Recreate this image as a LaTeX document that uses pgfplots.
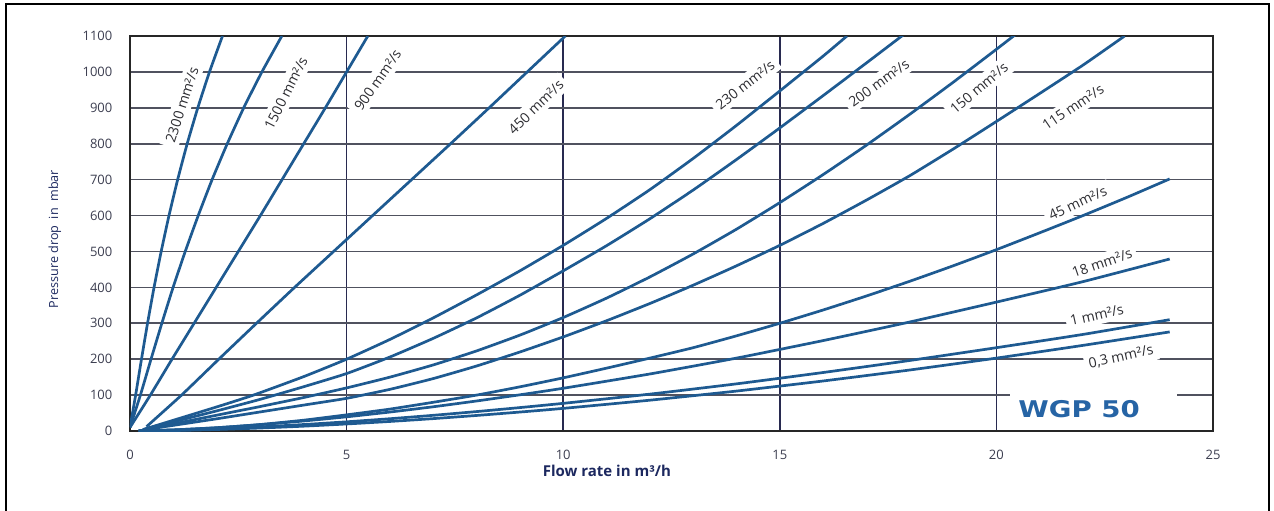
\documentclass[border=0pt]{standalone}
\usepackage{fontspec}
\setmainfont{Open Sans}
\newfontfamily\dejavu{DejaVu Sans}
\usepackage{graphicx}
\usepackage{pgfplots}
\pgfplotsset{compat=1.18}
\definecolor{curve}{RGB}{30,90,145}
\definecolor{hgrid}{RGB}{80,82,95}
\definecolor{vgrid}{RGB}{40,42,80}
\definecolor{ticktxt}{RGB}{60,62,80}
\definecolor{navy}{RGB}{28,40,95}
\definecolor{wgp}{RGB}{38,100,165}
\definecolor{lbltxt}{RGB}{45,45,50}
\tikzset{lbl/.style={font=\fontsize{7}{8}\selectfont, text=lbltxt, fill=white, inner sep=2.2pt}}
\begin{document}
\begin{tikzpicture}
\begin{axis}[
  set layers,
  at={(0,0)}, anchor=south west,
  scale only axis, width=541.5pt, height=197.5pt,
  xmin=0, xmax=25, ymin=0, ymax=1100,
  xtick={0,5,10,15,20,25}, ytick={0,100,...,1100},
  major tick length=0pt,
  /pgf/number format/assume math mode=true,
  /pgf/number format/1000 sep={},
  ticklabel style={font=\fontsize{6.5}{7}\selectfont, text=ticktxt},
  yticklabel style={xshift=-5.3pt},
  xticklabel style={yshift=-6.1pt},
  xmajorgrids, ymajorgrids,
  x grid style={vgrid, line width=0.75pt},
  y grid style={hgrid, line width=0.8pt},
  axis line style={black!85, line width=0.8pt},
  xlabel={Flow rate in m³/h},
  ylabel={Pressure drop\ \ in\ \ mbar},
  xlabel style={at={(axis description cs:0.4404,-0.101)}, anchor=center, font=\bfseries\fontsize{7.5}{8}\selectfont, text=navy},
  ylabel style={at={(axis description cs:-0.0693,0.486)}, anchor=center, font=\fontsize{6.3}{7}\selectfont, text=navy},
  no markers,
  every axis plot post/.append style={curve, solid, line width=1.35pt, mark=none, smooth, tension=0.3},
]
% 2300 mm2/s
\addplot coordinates {(0,10) (0.13,100) (0.265,200) (0.405,300) (0.555,400) (0.72,500) (0.90,600) (1.10,700) (1.32,800) (1.565,900) (1.835,1000) (2.135,1100)};
% 1500 mm2/s
\addplot coordinates {(0,10) (0.24,100) (0.485,200) (0.735,300) (0.995,400) (1.275,500) (1.575,600) (1.895,700) (2.245,800) (2.625,900) (3.045,1000) (3.505,1100)};
% 900 mm2/s
\addplot coordinates {(0,10) (0.47,100) (0.97,200) (1.48,300) (1.99,400) (2.50,500) (3.01,600) (3.51,700) (4.01,800) (4.51,900) (5.0,1000) (5.49,1100)};
% 450 mm2/s
\addplot coordinates {(0.38,12) (1.19,100) (2.05,200) (2.92,300) (3.8,400) (4.7,500) (5.6,600) (6.5,700) (7.4,800) (8.29,900) (9.17,1000) (10.05,1100)};
% 230 mm2/s
\addplot coordinates {(0.3,4) (2,67) (2.85,100) (4,151) (5,200) (6,255) (7,315) (8,379) (9,446) (10,517) (11,592) (12,672) (13,759) (14,851) (15,947) (16,1044) (16.55,1100)};
% 200 mm2/s
\addplot coordinates {(0.3,4) (2,56) (3,88) (4,123) (5,160) (6,206) (7,258) (8,315) (9,378) (10,446) (11,516) (12,591) (13,671) (14,756) (15,844) (16,934) (17,1025) (17.85,1103)};
% 150 mm2/s
\addplot coordinates {(0.3,3) (2,44) (3,68) (4,93) (5,120) (6,150) (7,184) (8,223) (9,267) (10,316) (11,370) (12,429) (13,493) (14,562) (15,636) (16,714) (17,796) (18,882) (19,971) (20,1063) (20.44,1104)};
% 115 mm2/s
\addplot coordinates {(0.3,3) (2,34) (3,53) (4,72) (5,91) (6,116) (7,146) (8,181) (9,220) (10,262) (11,307) (12,355) (13,406) (14,460) (15,517) (16,578) (17,643) (18,711) (19,785) (20,862) (21,940) (22,1019) (22.96,1100)};
% 45 mm2/s
\addplot coordinates {(0.2,1) (1,3) (2,9) (3,18) (4,30) (5,45) (6,61) (7,80) (8,100) (9,123) (10,148) (11,175) (12,203) (13,232) (14,265) (15,300) (16,337) (17,376) (18,417) (19,460) (20,505) (21,552) (22,600) (23,650) (24,702)};
% 18 mm2/s
\addplot coordinates {(0.2,1) (1,3.1) (2,9.2) (3,17.6) (4,27.8) (5,39.5) (6,52.8) (7,67.5) (8,83.6) (9,100.8) (10,119) (12,158.8) (14,203) (16,251.8) (18,303.6) (20,359) (22,416) (24,479)};
% 1 mm2/s
\addplot coordinates {(0.2,1) (1,2.0) (2,6.0) (3,11.4) (4,18.0) (5,25.6) (6,34.2) (7,43.7) (8,54.1) (9,65.2) (10,77) (12,102.7) (14,131.3) (16,162.9) (18,196.4) (20,232) (22,269) (24,310)};
% 0,3 mm2/s
\addplot coordinates {(0.2,1) (1,1.3) (2,4.2) (3,8.3) (4,13.4) (5,19.6) (6,26.6) (7,34.5) (8,43.3) (9,52.8) (10,63) (12,85.8) (14,111.2) (16,139.3) (18,169.9) (20,203) (22,238.5) (24,276)};

\begin{pgfonlayer}{pre main}
\node[lbl, rotate=72] at (axis cs:1.20,908) {2300 mm²/s};
\node[lbl, rotate=63] at (axis cs:3.60,941) {1500 mm²/s};
\node[lbl, rotate=55] at (axis cs:5.72,977) {900 mm²/s};
\node[lbl, rotate=44] at (axis cs:9.37,902) {450 mm²/s};
\node[lbl, rotate=38] at (axis cs:14.20,964) {230 mm²/s};
\node[lbl, rotate=36] at (axis cs:17.29,969) {200 mm²/s};
\node[lbl, rotate=40] at (axis cs:19.60,955) {150 mm²/s};
\node[lbl, rotate=34] at (axis cs:21.77,902) {115 mm²/s};
\node[lbl, rotate=25] at (axis cs:21.88,635) {45 mm²/s};
\node[lbl, rotate=19] at (axis cs:22.44,468) {18 mm²/s};
\node[lbl, rotate=12.5] at (axis cs:22.32,323) {1 mm²/s};
\node[lbl, rotate=12.5] at (axis cs:22.88,206) {0,3 mm²/s};
\fill[white] (axis cs:20.31,80) rectangle (axis cs:24.17,120);
\node[text=wgp, inner sep=0pt] at (axis cs:21.91,61) {\scalebox{1.2}[1]{\dejavu\bfseries\fontsize{11.5}{12}\selectfont WGP\hspace{4pt}50}};
\end{pgfonlayer}
\end{axis}
\draw[black, line width=1.3pt] (-62pt,-45pt) -- (-62pt,213.5pt) -- (569.5pt,213.5pt) -- (569.5pt,-45pt);
\pgfresetboundingbox
\useasboundingbox (-65pt,-39.5pt) rectangle (572pt,215.5pt);
\end{tikzpicture}
\end{document}
